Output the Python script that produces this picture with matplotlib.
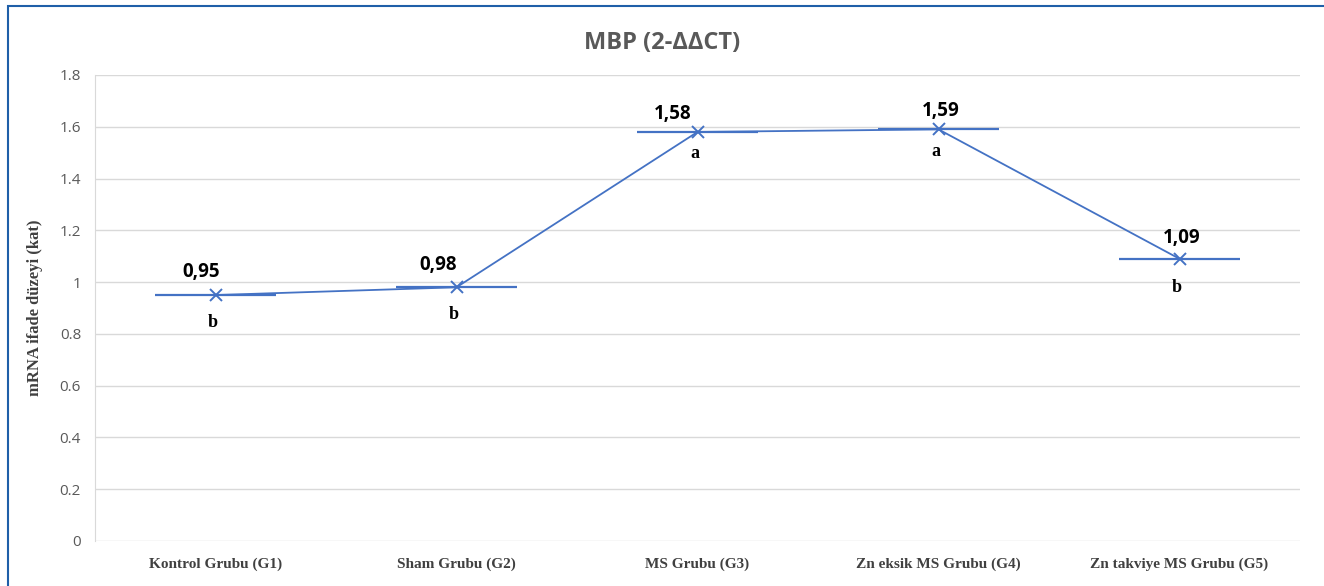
import matplotlib.pyplot as plt
from matplotlib.patches import Rectangle
from matplotlib.ticker import FuncFormatter

# 数据
groups = ['Kontrol Grubu (G1)', 'Sham Grubu (G2)', 'MS Grubu (G3)',
          'Zn eksik MS Grubu (G4)', 'Zn takviye MS Grubu (G5)']
values = [0.95, 0.98, 1.58, 1.59, 1.09]
value_labels = ['0,95', '0,98', '1,58', '1,59', '1,09']
letters = ['b', 'b', 'a', 'a', 'b']
yticks = [0, 0.2, 0.4, 0.6, 0.8, 1.0, 1.2, 1.4, 1.6, 1.8]

# 数值标签的偏移(像素)
label_dx = [-14, -18, -25, 2, 2]
label_dy = [23, 22, 18, 18, 21]
letter_dy = [-27, -27, -22, -22, -29]

blue = '#4472C4'
grid = '#d9d9d9'

fig = plt.figure(figsize=(13.24, 5.86), dpi=100)
ax = fig.add_axes([95 / 1324, 1 - 541 / 586, 1205 / 1324, 466 / 586])

x = list(range(len(groups)))
ax.errorbar(x, values, xerr=0.25, fmt='none', ecolor=blue, elinewidth=1.6, capsize=0, zorder=3)
ax.plot(x, values, color=blue, lw=1.3, marker='x', markersize=9, markeredgewidth=1.4, zorder=4)

for i, v in enumerate(values):
    ax.annotate(value_labels[i], (i, v), xytext=(label_dx[i], label_dy[i]), textcoords='offset pixels',
                ha='center', va='center', fontsize=13.5, fontweight='bold',
                family=['Open Sans', 'DejaVu Sans'], color='black')
    ax.annotate(letters[i], (i, v), xytext=(-3, letter_dy[i]), textcoords='offset pixels',
                ha='center', va='center', fontsize=13, fontweight='bold',
                family='Liberation Serif', color='black')

ax.set_xlim(-0.5, 4.5)
ax.set_ylim(0, 1.8)
ax.set_yticks(yticks)
ax.yaxis.set_major_formatter(FuncFormatter(lambda v, p: f'{v:g}'))
ax.set_xticks(x)
ax.set_xticklabels(groups, family='Liberation Serif', fontweight='bold', fontsize=11, color='#404040')
for t in ax.get_yticklabels():
    t.set_family(['Open Sans', 'DejaVu Sans'])
    t.set_fontsize(11)
    t.set_color('#595959')
ax.tick_params(axis='both', length=0)
ax.tick_params(axis='x', pad=12)
ax.tick_params(axis='y', pad=10)

ax.grid(axis='y', color=grid, lw=1)
ax.set_axisbelow(True)
for s in ['top', 'right', 'bottom']:
    ax.spines[s].set_visible(False)
ax.spines['left'].set_color(grid)

ax.set_ylabel('mRNA ifade düzeyi (kat)', family='Liberation Serif', fontweight='bold',
              fontsize=12, color='#404040', labelpad=12)

fig.text(0.5, 1 - 43 / 586, 'MBP (2-ΔΔCT)', ha='center', va='center', fontsize=17,
         fontweight='bold', family=['Open Sans', 'DejaVu Sans'], color='#595959')

# 外框
fig.patches.append(Rectangle((8 / 1324, -0.1), 1.2, 1 - 6 / 586 + 0.1, transform=fig.transFigure,
                             fill=False, edgecolor='#1f5fa8', lw=1.5))

fig.savefig('out.png', dpi=100)
